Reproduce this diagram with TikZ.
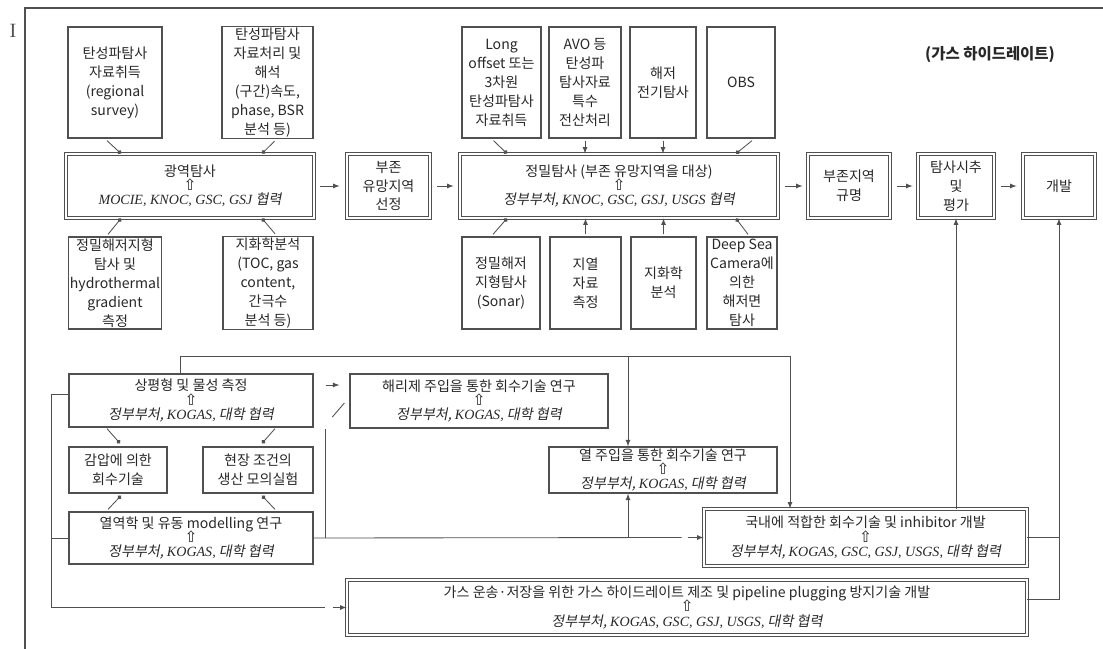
\documentclass[tikz,border=0pt]{standalone}
\usepackage{fontspec}
\setmainfont{Noto Sans CJK KR}
\newfontfamily\krit[FakeSlant=0.2]{Noto Sans CJK KR}
\newfontfamily\latfont{Liberation Serif}
\newfontfamily\symfont{DejaVu Sans}
\usetikzlibrary{arrows,arrows.meta}
\usetikzlibrary{calc}
\definecolor{boxline}{RGB}{80,80,80}
\definecolor{boxtext}{RGB}{40,40,40}

\newcommand\upar{{\symfont\fontsize{11}{13.5}\selectfont ⇧}}
\newcommand\en[1]{{\latfont\itshape #1}}
\newcommand\coop[2]{#1\\[-3.5pt]\upar\\[-3.5pt]{\krit #2}}

\tikzset{
sbox/.style={draw=boxline, line width=0.9pt, fill=white, text=boxtext, align=center, inner sep=1pt, font=\fontsize{10}{13.5}\selectfont},
dbox/.style={sbox, line width=0.6pt, double=white, double distance=1.2pt},
sz/.style n args={2}{minimum width=#1*0.025cm, minimum height=#2*0.025cm},
link/.style={draw=boxline, line width=0.6pt},
dotend/.style={link, -{Circle[length=3pt]}},
}

\begin{document}
\begin{tikzpicture}[x=0.025cm, y=-0.025cm]
\useasboundingbox (0,0) rectangle (1103,649);
\draw[boxline, line width=1.1pt] (25,649) -- (25,8) -- (1103,8);
\node[font=\latfont\Large, text=boxline] (cursor) at (13,31) {I};
\node[font=\fontsize{11}{13}\selectfont\bfseries, text=boxtext] (title) at (990,55) {(가스 하이드레이트)};

% exploration chain
\node[dbox, sz={248}{64}] (wide) at (190,186) {\coop{광역탐사}{\en{MOCIE, KNOC, GSC, GSJ} 협력}};
\node[dbox, sz={83}{64}] (select) at (388.5,186) {부존\\유망지역\\선정};
\node[dbox, sz={318}{64}] (detail) at (619,186) {\coop{정밀탐사 (부존 유망지역을 대상)}{정부부처, \en{KNOC, GSC, GSJ, USGS} 협력}};
\node[dbox, sz={82}{64}] (confirm) at (849,186) {부존지역\\규명};
\node[dbox, sz={76}{64}] (drill) at (956,186) {탐사시추\\및\\평가};
\node[dbox, sz={72}{64}] (dev) at (1059,186) {개발};

\node[sbox, sz={94}{111}] (seisAcq) at (115,82.5) {탄성파탐사\\자료취득\\(regional\\survey)};
\node[sbox, sz={91}{111}] (seisProc) at (267.5,82.5) {탄성파탐사\\자료처리 및\\해석\\(구간)속도,\\phase, BSR\\분석 등)};
\node[sbox, sz={92}{92}] (bathy) at (115,283) {정밀해저지형\\탐사 및\\hydrothermal\\gradient\\측정};
\node[sbox, sz={90}{92}] (chem) at (268,283) {지화학분석\\(TOC, gas\\content,\\간극수\\분석 등)};

\node[sbox, sz={79}{111}] (longOff) at (501.5,82.5) {Long\\offset 또는\\3차원\\탄성파탐사\\자료취득};
\node[sbox, sz={72}{111}] (avo) at (585,82.5) {AVO 등\\탄성파\\탐사자료\\특수\\전산처리};
\node[sbox, sz={66}{111}] (elec) at (663,82.5) {해저\\전기탐사};
\node[sbox, sz={68}{111}] (obs) at (741,82.5) {OBS};
\node[sbox, sz={78}{92}] (sonar) at (501,283) {정밀해저\\지형탐사\\(Sonar)};
\node[sbox, sz={71}{92}] (heat) at (585.5,283) {지열\\자료\\측정};
\node[sbox, sz={65}{92}] (geochem) at (663.5,283) {지화학\\분석};
\node[sbox, sz={70}{92}] (camera) at (742,283) {Deep Sea\\Camera에\\의한\\해저면\\탐사};

\draw[dotend] ($(seisAcq.south)+(-8,2)$) -- ($(wide.north)+(-69,0)$);
\draw[dotend] ($(seisProc.south)+(7,2)$) -- ($(wide.north)+(72,0)$);
\draw[dotend] ($(bathy.north)+(-7,-2)$) -- ($(wide.south)+(-69,0)$);
\draw[dotend] ($(chem.north)+(7,-2)$) -- ($(wide.south)+(72,0)$);
\draw[dotend] ($(longOff.south)+(-8,2)$) -- ($(detail.north)+(-112,0)$);
\draw[link,-latex] ($(avo.south)+(0,2)$) -- (avo.south |- detail.north);
\draw[link,-latex] ($(elec.south)+(0,2)$) -- (elec.south |- detail.north);
\draw[dotend] ($(obs.south)+(11,2)$) -- ($(detail.north)+(117,0)$);
\draw[dotend] ($(sonar.north)+(-8,-2)$) -- ($(detail.south)+(-112,0)$);
\draw[link,-latex] ($(heat.north)+(0,-2)$) -- (heat.north |- detail.south);
\draw[link,-latex] ($(geochem.north)+(0,-2)$) -- (geochem.north |- detail.south);
\draw[dotend] ($(camera.north)+(6,-2)$) -- ($(detail.south)+(117,0)$);

\draw[link,-latex] ($(wide.east)+(6,0)$) -- ($(select.west)+(-7,0)$);
\draw[link,-latex] ($(select.east)+(7,0)$) -- ($(detail.west)+(-6,0)$);
\draw[link,-latex] ($(detail.east)+(7,0)$) -- ($(confirm.west)+(-5,0)$);
\draw[link,-latex] ($(confirm.east)+(7,0)$) -- ($(drill.west)+(-5,0)$);
\draw[link,-latex] ($(drill.east)+(7,0)$) -- ($(dev.west)+(-6,0)$);

% recovery research
\node[sbox, sz={244}{53}] (phase) at (191,400.5) {\coop{상평형 및 물성 측정}{정부부처, \en{KOGAS,} 대학 협력}};
\node[sbox, sz={98}{46}] (depress) at (118,470) {감압에 의한\\회수기술};
\node[sbox, sz={110}{46}] (field) at (258,470) {현장 조건의\\생산 모의실험};
\node[sbox, sz={244}{52}] (model) at (191,538) {\coop{열역학 및 유동 modelling 연구}{정부부처, \en{KOGAS,} 대학 협력}};
\node[sbox, sz={258}{54}] (chemInj) at (479,401) {\coop{해리제 주입을 통한 회수기술 연구}{정부부처, \en{KOGAS,} 대학 협력}};
\node[sbox, sz={228}{46}] (thermInj) at (663,470) {\coop{열 주입을 통한 회수기술 연구}{정부부처, \en{KOGAS,} 대학 협력}};
\node[dbox, sz={323}{57}] (domestic) at (865.5,537.5) {\coop{국내에 적합한 회수기술 및 inhibitor 개발}{정부부처, \en{KOGAS, GSC, GSJ, USGS,} 대학 협력}};
\node[dbox, sz={680}{55}] (transport) at (687,607.5) {\coop{가스 운송·저장을 위한 가스 하이드레이트 제조 및 pipeline plugging 방지기술 개발}{정부부처, \en{KOGAS, GSC, GSJ, USGS,} 대학 협력}};

\draw[dotend] ($(phase.south)+(-84,1)$) -- ($(depress.north)+(2,-3)$);
\draw[dotend] ($(phase.south)+(84,1)$) -- ($(field.north)+(4,-3)$);
\draw[dotend] ($(model.north)+(-83,-2)$) -- ($(depress.south)+(3,2)$);
\draw[dotend] ($(model.north)+(84,-2)$) -- ($(field.south)+(4,2)$);
\draw[link,-latex] ($(phase.east)+(12,-15.5)$) -- ($(chemInj.west)+(-10,-16)$);

\coordinate (jv) at ($(model.east)+(12,0)$);
\coordinate (hb) at ($(thermInj.south)+(-35,0)$);
\draw[link] (model.east) -- ($(domestic.west)+(-22,0)$);
\draw[link,-latex] ($(domestic.west)+(-16,0)$) -- (domestic.west);
\draw[link] (jv) -- (jv |- chemInj.south);
\draw[link] ($(chemInj.west)+(-17,16)$) -- ($(chemInj.west)+(-5,2)$);
\draw[link,-latex] (hb |- model.east) -- (hb);

\coordinate (pt) at ($(phase.north)+(-11,0)$);
\coordinate (busT) at ($(pt)+(0,-17)$);
\coordinate (dt) at ($(domestic.north)+(-75.5,0)$);
\coordinate (ht) at ($(thermInj.north)+(-35,0)$);
\draw[link,-latex] (pt) -- (busT) -| (dt);
\draw[link,-latex] (ht |- busT) -- (ht);

\coordinate (busL) at ($(phase.west)+(-17,-6.5)$);
\draw[link] (phase.west |- busL) -- (busL) |- ($(transport.west)+(-22,0)$);
\draw[link] (model.west) -- (model.west -| busL);
\draw[link,-latex] ($(transport.west)+(-14,0)$) -- (transport.west);

\draw[link,-latex] (domestic.east) -| (dev.south);
\draw[link] ($(transport.east)+(0,-8)$) -| (domestic.east -| dev.south);
\draw[link,-latex] (domestic.north -| drill.south) -- (drill.south);
\end{tikzpicture}
\end{document}
